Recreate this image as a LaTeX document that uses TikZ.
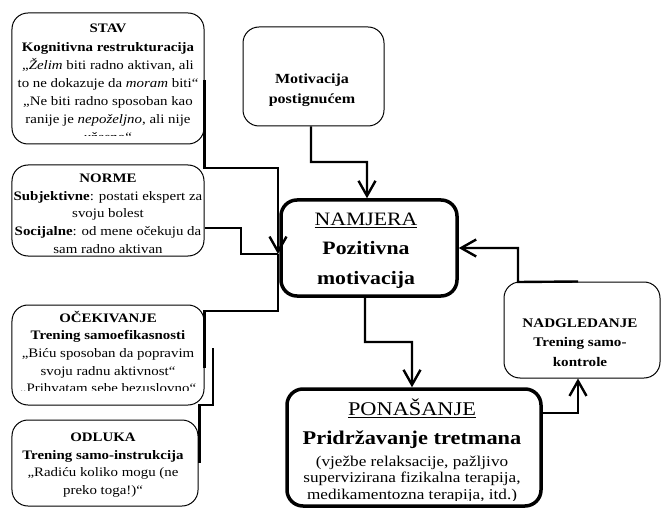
\documentclass[tikz,border=0pt]{standalone}
\usepackage{fontspec}
\setmainfont{Liberation Serif}[FakeStretch=1.15]
\usetikzlibrary{arrows.meta}
\newcommand{\mylines}[1]{\begin{tabular}[t]{@{}c@{}}#1\end{tabular}}
\newcommand{\smallfnt}{\fontsize{13}{17.8}\selectfont}
\begin{document}
\begin{tikzpicture}[x=1bp,y=-1bp,
  thinbox/.style={draw, line width=1bp, rounded corners=16bp, inner sep=0pt},
  thickbox/.style={draw, line width=3.5bp, rounded corners=16bp, inner sep=0pt},
  txt/.style={inner sep=0pt, anchor=base},
  conn/.style={line width=2.4bp},
  endarrow/.style={-{Straight Barb[length=15bp,width=17bp]}}
]
\useasboundingbox[fill=white] (0,0) rectangle (672,521);

% boxes
\node[thinbox, minimum width=192bp, minimum height=131bp] (stav) at (108,78.5) {};
\node[thinbox, minimum width=192bp, minimum height=91bp] (norme) at (108,210.5) {};
\node[thinbox, minimum width=192bp, minimum height=100bp] (ocek) at (108,355) {};
\node[thinbox, minimum width=186bp, minimum height=86bp] (odl) at (105,463) {};
\node[thinbox, minimum width=141bp, minimum height=99bp] (mot) at (313.5,76.5) {};
\node[thickbox, minimum width=176bp, minimum height=96bp] (nam) at (369,248) {};
\node[thickbox, minimum width=254bp, minimum height=117bp] (pon) at (414,447.5) {};
\node[thinbox, minimum width=156bp, minimum height=96bp] (nad) at (582,330) {};

% texts
\begin{scope}
\clip (12,13) rectangle (204,136);
\node[txt, font=\fontsize{13}{18.2}\selectfont] (stavT) at (108,33) {\mylines{%
\textbf{STAV}\\
\textbf{Kognitivna restrukturacija}\\
„\textit{Želim} biti radno aktivan, ali\\
to ne dokazuje da \textit{moram} biti“\\
„Ne biti radno sposoban kao\\
ranije je \textit{nepoželjno}, ali nije\\
užasno“}};
\end{scope}

\node[txt, font=\smallfnt] (normeT) at (108,182.5) {\mylines{%
\textbf{NORME}\\
\textbf{Subjektivne}: postati ekspert za\\
svoju bolest\\
\textbf{Socijalne}: od mene očekuju da\\
sam radno aktivan}};

\begin{scope}
\clip (12,305) rectangle (204,390);
\node[txt, font=\smallfnt] (ocekT) at (108,322) {\mylines{%
\textbf{OČEKIVANJE}\\
\textbf{Trening samoefikasnosti}\\
„Biću sposoban da popravim\\
svoju radnu aktivnost“\\
„Prihvatam sebe bezuslovno“}};
\end{scope}

\node[txt, font=\smallfnt] (odlT) at (103,441.5) {\mylines{%
\textbf{ODLUKA}\\
\textbf{Trening samo-instrukcija}\\
„Radiću koliko mogu (ne\\
preko toga!)“}};

\node[txt, font=\fontsize{14}{20.5}\selectfont] (motT) at (312,83.5) {\mylines{%
\textbf{Motivacija}\\
\textbf{postignućem}}};

\node[txt, font=\fontsize{19}{29.5}\selectfont] (namT) at (366,225.5) {\mylines{%
\underline{NAMJERA}\\
\textbf{Pozitivna}\\
\textbf{motivacija}}};

\node[txt, font=\fontsize{19.5}{29.5}\selectfont] (ponT) at (412,415.5) {\mylines{%
\underline{PONAŠANJE}\\
\textbf{Pridržavanje tretmana}}};
\begin{scope}
\clip (287,389) rectangle (541,500);
\node[txt, font=\fontsize{15}{17}\selectfont] (ponS) at (412,466) {\mylines{%
(vježbe relaksacije, pažljivo\\
supervizirana fizikalna terapija,\\
medikamentozna terapija, itd.)}};
\end{scope}

\node[txt, font=\fontsize{13.2}{20}\selectfont] (nadT) at (580,327) {\mylines{%
\textbf{NADGLEDANJE}\\
\textbf{Trening samo-}\\
\textbf{kontrole}}};

% connectors
\coordinate (jn) at (278,254);
\coordinate (odlEnd) at (213,348);
\draw[conn,endarrow] ([xshift=-2.5bp]mot.south) |- (367,162) -- ([xshift=-2bp]nam.north);
\draw[conn,endarrow] ([yshift=-1.5bp]stav.east) |- (278,168) -- (jn);
\draw[conn] ([yshift=-17.5bp]norme.east) -| (241,254) -- (jn);
\draw[conn] ([yshift=-13bp]ocek.east) |- (278,311) -- (jn);
\draw[conn] ([xshift=1bp]odl.east) |- (213,405) -- (odlEnd);
\draw[conn,endarrow] ([xshift=-4bp]nam.south) |- (412,342) -- ([xshift=-2bp]pon.north);
\draw[conn,endarrow] ([yshift=34.5bp]pon.east) -| ([xshift=-4bp]nad.south);
\draw[conn,endarrow] ([xshift=-4bp]nad.north) -- (518,282) |- (nam.east);
\end{tikzpicture}
\end{document}
